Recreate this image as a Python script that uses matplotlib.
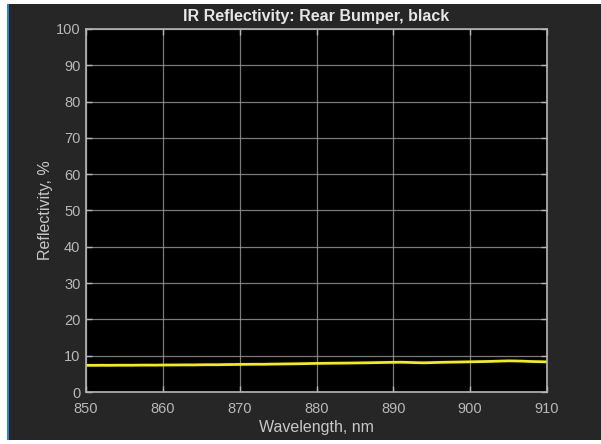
import matplotlib
matplotlib.use("Agg")
import matplotlib.pyplot as plt
from matplotlib.patches import Rectangle

# measured reflectivity, 1 nm steps from 850 to 910 nm
wavelength = list(range(850, 911))
reflectivity = [
    7.35, 7.34, 7.36, 7.35, 7.37, 7.38, 7.37, 7.40, 7.41, 7.40,
    7.43, 7.44, 7.45, 7.47, 7.46, 7.50, 7.52, 7.51, 7.55, 7.57,
    7.60, 7.62, 7.64, 7.63, 7.68, 7.70, 7.74, 7.76, 7.80, 7.84,
    7.88, 7.90, 7.93, 7.95, 7.97, 8.00, 8.03, 8.06, 8.10, 8.14,
    8.18, 8.20, 8.15, 8.08, 8.04, 8.10, 8.16, 8.20, 8.24, 8.28,
    8.32, 8.36, 8.40, 8.45, 8.52, 8.58, 8.55, 8.48, 8.40, 8.35,
    8.30,
]

xticks = [850, 860, 870, 880, 890, 900, 910]
yticks = [0, 10, 20, 30, 40, 50, 60, 70, 80, 90, 100]

W, H = 601, 444
fig = plt.figure(figsize=(W / 100, H / 100), dpi=100, facecolor="white")

# dark window panel with its blue left edge
fig.add_artist(Rectangle((9 / W, (H - 440) / H), (W - 9) / W, 436 / H,
                         transform=fig.transFigure, facecolor="#262626",
                         edgecolor="none", zorder=-10))
fig.add_artist(Rectangle((7 / W, (H - 440) / H), 2 / W, 436 / H,
                         transform=fig.transFigure, facecolor="#2f7fd0",
                         edgecolor="none", zorder=-10))

ax = fig.add_axes([86 / W, (H - 392) / H, (547 - 86) / W, (392 - 29) / H])
ax.set_zorder(1)
ax.set_facecolor("black")
ax.plot(wavelength, reflectivity, color="#f5f000", linewidth=2.0)

ax.set_xlim(850, 910)
ax.set_ylim(0, 100)
ax.set_xticks(xticks)
ax.set_yticks(yticks)
ax.grid(True, color="#9a9a9a", linewidth=0.9, alpha=0.8)
ax.set_axisbelow(True)

for s in ax.spines.values():
    s.set_color("#b5b5b5")
    s.set_linewidth(1.2)
ax.tick_params(direction="in", length=4, width=1, colors="#b5b5b5",
               labelcolor="#b8b8b8", labelsize=10.5, top=True, right=True)
ax.tick_params(axis="x", pad=7)
ax.tick_params(axis="y", pad=4)
for lbl in ax.get_xticklabels() + ax.get_yticklabels():
    lbl.set_family("Liberation Sans")

ax.set_title("IR Reflectivity: Rear Bumper, black", color="#e6e6e6",
             fontsize=11.5, fontweight="bold", family="Liberation Sans", pad=6)
ax.set_xlabel("Wavelength, nm", color="#c8c8c8", fontsize=11.5,
              family="Liberation Sans", labelpad=3)
ax.set_ylabel("Reflectivity, %", color="#c8c8c8", fontsize=11.5,
              family="Liberation Sans", labelpad=2)

fig.savefig("out.png", dpi=100, facecolor="white")
